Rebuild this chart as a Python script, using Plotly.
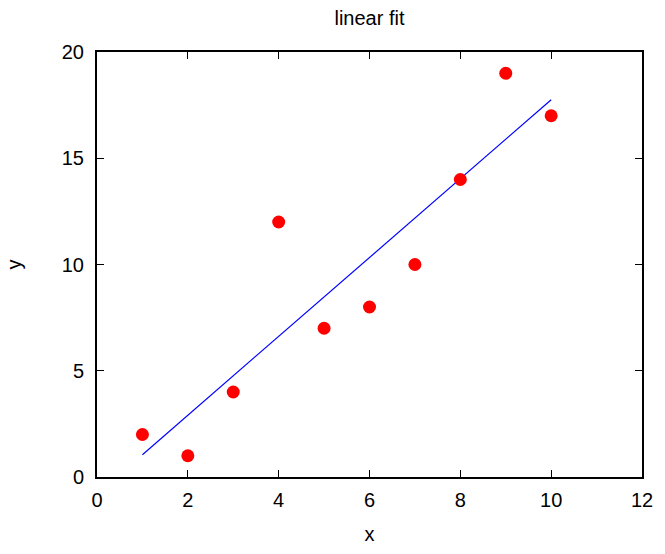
import plotly.graph_objects as go

x_data = [1, 2, 3, 4, 5, 6, 7, 8, 9, 10]
y_data = [2, 1, 4, 12, 7, 8, 10, 14, 19, 17]
fit_x = [1, 10]
fit_y = [1.05, 17.75]

FONT = "Liberation Sans, Arial, sans-serif"

fig = go.Figure()
fig.add_trace(go.Scatter(x=fit_x, y=fit_y, mode="lines",
                         line=dict(color="#0000ff", width=1.2), showlegend=False))
fig.add_trace(go.Scatter(x=x_data, y=y_data, mode="markers",
                         marker=dict(color="#ff0000", size=13, line=dict(width=0)),
                         showlegend=False))

axis_common = dict(showgrid=False, zeroline=False, showline=True, linecolor="black",
                   linewidth=2, mirror="ticks", ticks="inside", ticklen=7,
                   tickwidth=1, tickcolor="black",
                   tickfont=dict(family=FONT, size=20, color="black"))

fig.update_layout(
    width=665, height=554,
    plot_bgcolor="white", paper_bgcolor="white",
    margin=dict(l=97, r=15, t=52, b=70),
    title=dict(text="linear fit", xref="paper", x=0.5, xanchor="center", y=1 - 18 / 554,
               yanchor="middle", font=dict(family=FONT, size=20, color="black")),
    xaxis=dict(range=[0, 12], dtick=2, ticklabelstandoff=4,
               title=dict(text="x", standoff=17, font=dict(family=FONT, size=20, color="black")),
               **axis_common),
    yaxis=dict(range=[0, 20], dtick=5, ticklabelstandoff=7,
               title=dict(text="y", standoff=35, font=dict(family=FONT, size=20, color="black")),
               **axis_common),
)

fig.write_html("out.html", config={"displayModeBar": False},
               post_script="document.body.style.margin='0';document.body.style.overflow='hidden';")
